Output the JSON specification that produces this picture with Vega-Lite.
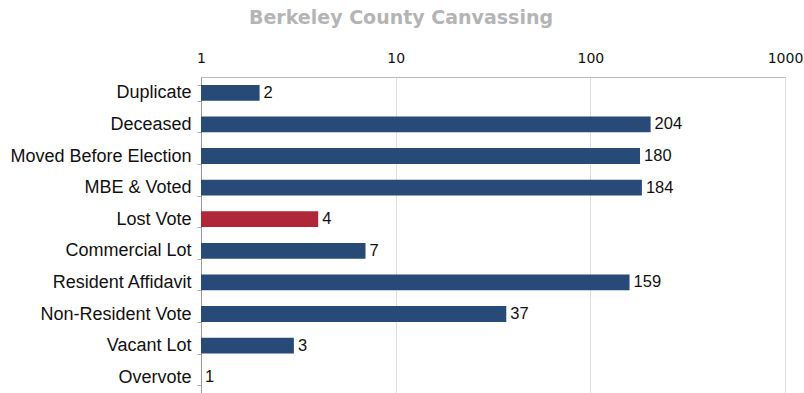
{
  "$schema": "https://vega.github.io/schema/vega-lite/v6.json",
  "width": 584,
  "height": 316,
  "autosize": "none",
  "padding": {"left": 201, "top": 77, "right": 19, "bottom": 0},
  "background": "white",
  "title": {
    "text": "Berkeley County Canvassing",
    "font": "DejaVu Sans",
    "fontSize": 19,
    "fontWeight": "bold",
    "color": "#b4b4b4",
    "anchor": "middle",
    "dx": -92,
    "offset": 23
  },
  "data": {
    "values": [
      {"category": "Duplicate", "count": 2, "highlight": "no"},
      {"category": "Deceased", "count": 204, "highlight": "no"},
      {"category": "Moved Before Election", "count": 180, "highlight": "no"},
      {"category": "MBE & Voted", "count": 184, "highlight": "no"},
      {"category": "Lost Vote", "count": 4, "highlight": "yes"},
      {"category": "Commercial Lot", "count": 7, "highlight": "no"},
      {"category": "Resident Affidavit", "count": 159, "highlight": "no"},
      {"category": "Non-Resident Vote", "count": 37, "highlight": "no"},
      {"category": "Vacant Lot", "count": 3, "highlight": "no"},
      {"category": "Overvote", "count": 1, "highlight": "no"}
    ]
  },
  "encoding": {
    "y": {
      "field": "category",
      "type": "nominal",
      "sort": null,
      "title": null,
      "scale": {"paddingInner": 0.5, "paddingOuter": 0.25},
      "axis": {
        "labelFont": "Liberation Sans",
        "labelFontSize": 18,
        "labelColor": "#111111",
        "labelPadding": 6,
        "labelLimit": 250,
        "tickBand": "extent",
        "tickSize": 4,
        "tickColor": "#aaaaaa",
        "domainColor": "#999999",
        "grid": false
      }
    }
  },
  "layer": [
    {
      "mark": {"type": "bar"},
      "encoding": {
        "x": {
          "field": "count",
          "type": "quantitative",
          "scale": {"type": "log", "domain": [1, 1000]},
          "title": null,
          "axis": {
            "orient": "top",
            "values": [1, 10, 100, 1000],
            "format": "d",
            "labelFont": "DejaVu Sans",
            "labelFontSize": 14,
            "labelColor": "#111111",
            "labelPadding": 12,
            "ticks": false,
            "domainColor": "#bbbbbb",
            "gridColor": "#dddddd",
            "labelFlush": false
          }
        },
        "x2": {"datum": 1},
        "color": {
          "field": "highlight",
          "type": "nominal",
          "scale": {"domain": ["no", "yes"], "range": ["#274a76", "#b0273a"]},
          "legend": null
        }
      }
    },
    {
      "mark": {"type": "text", "align": "left", "dx": 4, "font": "Liberation Sans", "fontSize": 16.5, "color": "#111111"},
      "encoding": {
        "x": {"field": "count", "type": "quantitative"},
        "text": {"field": "count", "type": "quantitative"}
      }
    }
  ]
}
